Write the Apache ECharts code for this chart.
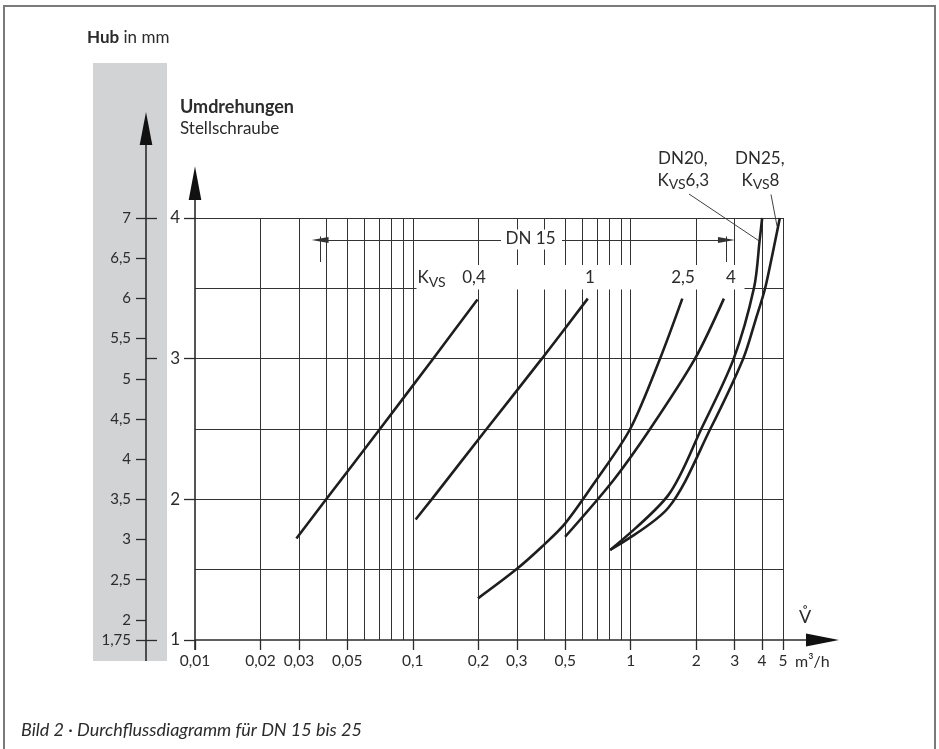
<!DOCTYPE html>
<html><head><meta charset="utf-8">
<script src="https://cdn.jsdelivr.net/npm/echarts@6/dist/echarts.min.js"></script>
<style>html,body{margin:0;padding:0;background:#fff}#c{width:939px;height:749px}</style>
</head><body><div id="c"></div>
<script>
// ---- data ----
const xTickValues = [0.01,0.02,0.03,0.05,0.1,0.2,0.3,0.5,1,2,3,4,5];
const xGridValues = [0.02,0.03,0.04,0.05,0.06,0.07,0.08,0.09,0.1,0.2,0.3,0.4,0.5,0.6,0.7,0.8,0.9,1,2,3,4,5];
const yGridValues = [1.5,2,2.5,3,3.5,4];
const revTicks = [1,2,3,4];
const hubTicks = [1.75,2,2.5,3,3.5,4,4.5,5,5.5,6,6.5,7];
const hubInnerTicks = [1.75,5.25,7];
const kvs04 = [[0.0292,1.722],[0.04,2.0],[0.0706,2.5],[0.1239,3.0],[0.198,3.42]];
const kvs1  = [[0.103,1.857],[0.122,2.0],[0.218,2.5],[0.391,3.0],[0.635,3.427]];
const kvs25 = [[0.199,1.296],[0.2956,1.497],[0.391,1.663],[0.5005,1.829],[0.694,2.136],[0.994,2.5],[1.363,3.0],[1.725,3.427]];
const kvs4  = [[0.5,1.734],[0.833,2.136],[1.227,2.5],[1.973,3.0],[2.677,3.427]];
const dn20  = [[0.805,1.64],[1.488,2.03],[2.108,2.5],[2.97,3.0],[3.687,3.509],[3.907,3.842],[4.012,4.0]];
const dn25  = [[0.805,1.64],[1.488,1.94],[2.318,2.5],[3.283,3.0],[3.737,3.273],[4.153,3.509],[4.835,4.0]];
const dn15Range = [0.0375, 2.75];
const dn15Level = 3.843;
const dn15TickSpan = [3.687, 3.869];
const curveLabels = ['0,4','1','2,5','4'];

const FONT = 'Lato';
const INK = '#2b2b2b';
const fmt = v => String(Number(Number(v).toPrecision(6))).replace('.', ',');

const chart = echarts.init(document.getElementById('c'), null, {renderer:'canvas'});

function curve(name, data){
  return {name, type:'line', data, smooth:0.3, showSymbol:false, z:10, silent:true,
    lineStyle:{color:'#1e1e1e', width:2.6}, xAxisIndex:0, yAxisIndex:0, animation:false};
}

const option = {
  animation:false,
  textStyle:{fontFamily:FONT},
  grid:{left:195, right:156, top:218, bottom:109, containLabel:false},
  xAxis:[{type:'log', logBase:10, min:0.01, max:5,
    axisLine:{show:false},
    axisTick:{show:true, customValues:xTickValues, length:10, lineStyle:{color:INK, width:1.3}},
    axisLabel:{customValues:xTickValues, formatter:fmt, margin:13, fontSize:15.5, color:INK, fontFamily:FONT},
    splitLine:{show:false}, minorTick:{show:false}}],
  yAxis:[
    {type:'value', min:1, max:4, position:'left',
     axisLine:{show:false},
     axisTick:{show:true, customValues:revTicks, length:11, lineStyle:{color:INK, width:1.3}},
     axisLabel:{customValues:revTicks, margin:15, fontSize:17, color:INK, fontFamily:FONT},
     splitLine:{show:false}},
    {type:'value', min:1.75, max:7, position:'left', offset:49,
     axisLine:{show:false},
     axisTick:{show:true, customValues:hubTicks, length:10, lineStyle:{color:INK, width:1.3}},
     axisLabel:{customValues:hubTicks, formatter:fmt, margin:15, fontSize:15, color:INK, fontFamily:FONT},
     splitLine:{show:false}},
    {type:'value', min:1.75, max:7, position:'left', offset:49,
     axisLine:{show:false},
     axisTick:{show:true, inside:true, customValues:hubInnerTicks, length:11, lineStyle:{color:INK, width:1.3}},
     axisLabel:{show:false}, splitLine:{show:false}}
  ],
  series:[
    {name:'grid', type:'line', data:[], silent:true, z:1,
     markLine:{silent:true, symbol:'none', animation:false, z:1, label:{show:false},
       lineStyle:{type:'solid', color:'#333', width:1},
       data:[...xGridValues.map(v=>({xAxis:v})), ...yGridValues.map(v=>({yAxis:v}))]}},
    {name:'dn15', type:'line', data:[], silent:true, z:3,
     markLine:{silent:true, animation:false, z:3, label:{show:false},
       symbol:['none','none'],
       lineStyle:{type:'solid', color:'#333', width:1},
       data:[
         [{coord:[dn15Range[0], dn15Level], symbol:'triangle', symbolSize:[6,17]},
          {coord:[dn15Range[1], dn15Level], symbol:'triangle', symbolSize:[6,17]}],
         [{coord:[dn15Range[0], dn15TickSpan[0]]},{coord:[dn15Range[0], dn15TickSpan[1]]}],
         [{coord:[dn15Range[1], dn15TickSpan[0]]},{coord:[dn15Range[1], dn15TickSpan[1]]}]
       ]}},
    curve('Kvs 0,4', kvs04), curve('Kvs 1', kvs1), curve('Kvs 2,5', kvs25),
    curve('Kvs 4', kvs4), curve('DN20 Kvs 6,3', dn20), curve('DN25 Kvs 8', dn25)
  ]
};
chart.setOption(option);

// ---- decorations computed from the axes ----
const P = (x,y) => chart.convertToPixel({xAxisIndex:0, yAxisIndex:0}, [x,y]);
const o = P(0.01, 1);
const hubX = o[0] - 49;
const kvsRich = {
  k:{fontSize:17, lineHeight:22, fontFamily:FONT, color:INK},
  s:{fontSize:14, lineHeight:12, verticalAlign:'bottom', fontFamily:FONT, color:INK}
};
function txt(x, y, text, extra){
  return {type:'text', x, y, z:60, silent:true,
    style:Object.assign({text, fill:INK, font:'17px '+FONT, textVerticalAlign:'middle'}, extra||{})};
}
function rich(x, y, text){
  return {type:'text', x, y, z:60, silent:true,
    style:{text, rich:kvsRich, fill:INK, fontSize:17, fontFamily:FONT, textVerticalAlign:'middle'}};
}
const rowY = 278;
const graphics = [
  {type:'rect', z:-5, silent:true, shape:{x:4, y:6, width:931, height:760}, style:{fill:'none', stroke:'#7a7a7a', lineWidth:2}},
  {type:'rect', z:-5, silent:true, shape:{x:93, y:63, width:74, height:598}, style:{fill:'#d2d3d5'}},
  // axis lines with arrows
  {type:'line', z:40, silent:true, shape:{x1:o[0], y1:o[1], x2:807, y2:o[1]}, style:{stroke:INK, lineWidth:1.6}},
  {type:'polygon', z:40, silent:true, shape:{points:[[806,633.5],[839,o[1]],[806,646.5]]}, style:{fill:'#111'}},
  {type:'line', z:40, silent:true, shape:{x1:o[0], y1:o[1]+10, x2:o[0], y2:198}, style:{stroke:INK, lineWidth:1.6}},
  {type:'polygon', z:40, silent:true, shape:{points:[[o[0]-6.3,200],[o[0],166.5],[o[0]+6.3,200]]}, style:{fill:'#111'}},
  {type:'line', z:40, silent:true, shape:{x1:hubX, y1:661, x2:hubX, y2:143}, style:{stroke:INK, lineWidth:1.6}},
  {type:'polygon', z:40, silent:true, shape:{points:[[hubX-6.3,145],[hubX,112],[hubX+6.3,145]]}, style:{fill:'#111'}},
  // titles
  {type:'text', x:87, y:38, z:60, silent:true, style:{text:'{b|Hub} in mm', rich:{b:{fontWeight:'bold', fontSize:17, fontFamily:FONT, color:INK}}, fill:INK, fontSize:17, fontFamily:FONT, textVerticalAlign:'middle'}},
  txt(180, 107, 'Umdrehungen', {font:'bold 18px '+FONT}),
  txt(180, 129, 'Stellschraube'),
  // label row (white band)
  {type:'rect', z:50, silent:true, shape:{x:416.5, y:265, width:328, height:24.5}, style:{fill:'#fff'}},
  rich(417.5, rowY, '{k|K}{s|VS}'),
  txt(474, rowY, curveLabels[0], {textAlign:'center'}),
  txt(590, rowY, curveLabels[1], {textAlign:'center'}),
  txt(683, rowY, curveLabels[2], {textAlign:'center'}),
  txt(731, rowY, curveLabels[3], {textAlign:'center'}),
  // DN 15 dimension label
  {type:'rect', z:50, silent:true, shape:{x:501, y:229.5, width:61, height:20}, style:{fill:'#fff'}},
  txt(530.5, 238.5, 'DN 15', {textAlign:'center'}),
  // DN20 / DN25 labels + leaders
  txt(658, 158.5, 'DN20,'),
  rich(657.5, 180.5, '{k|K}{s|VS}{k|6,3}'),
  txt(735, 158.5, 'DN25,'),
  rich(741.5, 180.5, '{k|K}{s|VS}{k|8}'),
  {type:'line', z:40, silent:true, shape:{x1:689, y1:194, x2:760, y2:241.5}, style:{stroke:INK, lineWidth:0.9}},
  {type:'line', z:40, silent:true, shape:{x1:771, y1:194.5, x2:777, y2:226}, style:{stroke:INK, lineWidth:0.9}},
  // flow axis symbol and unit
  txt(805, 617, 'V\u030A', {textAlign:'center', font:'18px '+FONT}),
  txt(795, 662, 'm\u00B3/h', {font:'16px '+FONT}),
  // caption
  txt(21, 730, 'Bild 2 \u00B7 Durchflussdiagramm f\u00FCr DN 15 bis 25', {font:'italic 18px '+FONT})
];
chart.setOption({graphic:{elements:graphics}});
</script></body></html>
